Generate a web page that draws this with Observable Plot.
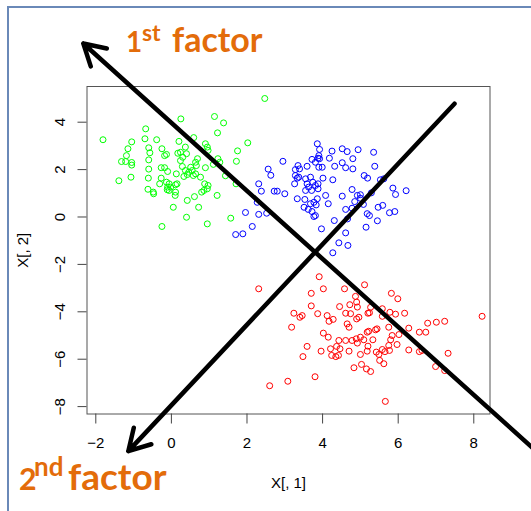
<!DOCTYPE html>
<html><head><meta charset="utf-8">
<script src="https://cdn.jsdelivr.net/npm/d3@7"></script>
<script src="https://cdn.jsdelivr.net/npm/@observablehq/plot@0.6"></script>
<style>
html,body{margin:0;padding:0;background:#fff;}
#wrap{position:relative;width:531px;height:511px;overflow:hidden;background:#fff;}
#wrap svg{position:absolute;left:0;top:0;}
#border{position:absolute;left:7px;top:6px;right:-10px;bottom:-10px;border-left:2px solid #6a89b8;border-top:2px solid #6a89b8;z-index:2;pointer-events:none;}
</style></head><body>
<div id="wrap"><div id="border"></div></div>
<script>
// ---- data ----
const groups = ["cluster 1", "cluster 2", "cluster 3"];
const groupColors = ["#00ff00", "#0000ff", "#ff0000"];

const greenX = [-1.81,-0.68,-0.70,-1.05,-0.39,-1.15,-0.60,-0.57,-0.25,-0.18,-0.13,-1.19,-1.32,-1.21,-1.05,-1.05,-0.60,-0.60,-0.27,-0.18,-0.10,0.13,0.20,0.25,-0.61,-1.07,-1.39,-0.27,-0.31,-0.13,-0.06,0.11,-0.62,-0.48,-0.47,-0.11,-0.06,-0.10,0.10,0.42,0.05,0.40,-0.25,0.24,0.29,0.37,0.33,0.42,0.17,0.24,0.30,2.47,1.14,1.38,1.22,0.59,2.02,0.90,0.95,0.97,1.75,0.37,0.40,1.72,0.69,0.64,0.66,1.23,1.28,0.51,0.55,0.46,0.90,1.11,0.58,0.64,0.77,1.43,0.88,0.97,0.86,0.95,1.71,0.80,0.61,1.21,0.72,1.57,0.95,0.11,0.15,-0.02];
const greenY = [3.26,3.72,3.30,3.17,3.26,2.88,2.92,2.71,2.88,2.59,2.64,2.59,2.34,2.34,2.30,2.19,2.41,2.02,2.08,2.08,1.92,1.82,3.19,4.14,1.64,1.68,1.53,1.64,1.40,1.47,1.40,1.36,1.17,1.05,0.98,1.15,1.12,1.26,0.91,0.70,0.41,-0.01,-0.40,2.38,2.13,1.96,1.71,1.79,2.69,2.73,2.52,5.00,4.24,3.97,3.55,3.35,3.13,3.09,2.95,2.81,2.79,2.95,2.67,2.35,2.46,2.31,2.17,2.46,2.31,2.10,1.96,1.89,2.08,2.22,1.75,1.82,1.68,1.74,1.40,1.33,1.12,1.19,1.40,1.05,0.86,0.91,0.41,-0.05,-0.29,1.05,1.40,1.26];

const blueX = [2.56,2.63,2.31,2.38,2.72,2.80,2.27,1.96,2.31,2.52,2.14,1.70,1.89,2.95,3.86,3.35,3.28,3.39,3.59,3.72,3.81,3.88,3.28,3.33,3.37,3.26,3.55,3.68,3.59,3.74,3.81,3.88,3.00,3.55,3.71,3.63,3.33,3.53,3.68,3.77,3.83,3.51,3.62,3.72,3.77,4.25,4.52,4.65,4.94,5.35,3.92,3.90,3.92,3.99,3.90,4.18,4.32,4.52,4.61,4.80,4.80,5.38,4.01,4.27,5.10,5.19,5.53,5.62,3.88,3.86,4.78,4.92,5.00,5.00,4.52,4.08,4.15,5.86,5.93,6.21,4.85,4.78,4.61,5.29,5.47,5.59,5.77,5.91,5.18,5.24,3.81,4.31,4.66,5.45,5.15,3.97,4.61,4.43,4.67,4.27,5.08];
const blueY = [2.02,1.76,1.40,1.09,1.09,1.09,0.62,0.19,0.11,0.16,-0.40,-0.74,-0.71,2.35,3.09,2.17,2.00,2.03,2.14,2.43,2.31,2.48,1.75,1.64,1.68,1.40,1.61,1.68,1.40,1.47,1.33,1.40,0.98,1.12,1.12,1.26,0.77,0.74,0.56,0.62,0.51,0.41,0.32,0.23,0.02,2.78,2.88,2.76,2.84,2.73,2.85,2.59,2.46,2.10,2.10,2.48,2.14,2.29,2.08,2.46,2.03,2.14,1.64,1.57,1.75,1.64,1.57,1.61,1.19,0.77,1.16,0.91,0.94,0.79,0.88,0.91,0.56,1.22,0.95,1.11,0.65,0.37,0.32,1.02,0.41,0.49,0.18,0.23,0.14,0.06,0.06,-0.15,-0.08,-0.16,-0.43,-0.50,-0.67,-1.09,-1.20,-1.51,0.53];

const redX = [2.31,3.70,4.02,4.58,4.87,3.70,3.24,3.40,3.46,3.87,4.12,4.17,4.28,4.45,4.72,4.61,4.74,4.90,4.92,4.96,4.90,3.18,4.65,4.70,5.20,4.02,4.15,4.43,4.61,4.78,5.00,5.09,5.18,3.59,3.96,4.21,4.37,4.46,4.24,4.35,4.42,4.70,5.00,5.18,5.20,3.48,4.83,5.03,5.16,3.80,3.08,2.60,5.82,5.99,5.27,5.24,5.58,5.58,5.78,5.93,6.17,8.22,6.78,7.01,7.23,5.75,6.28,5.22,5.40,5.44,6.56,6.73,5.84,6.02,5.80,5.33,5.97,5.75,5.77,5.65,6.28,6.56,6.63,7.32,5.42,5.49,5.58,5.51,5.62,6.99,7.23,5.27,5.66,5.11,3.91,4.89,4.92];
const redY = [-3.03,-3.22,-3.03,-3.03,-3.35,-3.75,-4.06,-4.23,-4.16,-4.08,-4.16,-4.40,-4.32,-3.78,-3.70,-4.06,-4.08,-3.59,-3.80,-4.23,-4.30,-4.65,-4.51,-4.65,-4.06,-4.90,-5.07,-5.21,-5.21,-5.21,-5.07,-5.18,-4.86,-5.46,-5.66,-5.56,-5.46,-5.56,-5.84,-5.89,-5.84,-5.66,-5.80,-5.66,-5.45,-5.89,-6.36,-6.22,-6.41,-6.74,-6.93,-7.12,-3.22,-3.45,-3.81,-4.04,-3.87,-4.19,-4.02,-4.10,-4.06,-4.19,-4.48,-4.44,-4.40,-4.65,-4.69,-4.82,-4.76,-4.72,-4.86,-4.86,-5.00,-4.96,-5.18,-5.18,-5.38,-5.42,-5.63,-5.68,-5.61,-5.68,-5.63,-5.75,-5.70,-5.80,-5.59,-6.05,-6.19,-6.31,-6.48,-6.52,-7.78,-2.86,-2.52,-5.14,-5.32];

const xTicks = [-2, 0, 2, 4, 6, 8];
const yTicks = [-8, -6, -4, -2, 0, 2, 4];
const xDomain = [-2.233, 8.429];
const yDomain = [-8.312, 5.506];

// factor directions drawn as arrows (data coordinates)
const arrowFrom = [[9.63, -9.85], [7.49, 4.78]];
const arrowTo = [[-2.33, 7.32], [-1.14, -9.88]];
const factorNumbers = ["1", "2"];
const factorSuffixes = ["st", "nd"];
const factorWord = "factor";

// ---- build table ----
const points = [
  ...greenX.map((x, i) => ({x, y: greenY[i], group: groups[0]})),
  ...blueX.map((x, i) => ({x, y: blueY[i], group: groups[1]})),
  ...redX.map((x, i) => ({x, y: redY[i], group: groups[2]}))
];
const arrows = arrowFrom.map((f, i) => ({x1: f[0], y1: f[1], x2: arrowTo[i][0], y2: arrowTo[i][1]}));

const chart = Plot.plot({
  width: 531, height: 511,
  marginLeft: 86.5, marginRight: 41.5, marginTop: 86, marginBottom: 97.5,
  style: {fontFamily: "'Liberation Sans', Arial, sans-serif", fontSize: "15px", background: "transparent", color: "#000", overflow: "visible"},
  x: {domain: xDomain},
  y: {domain: yDomain},
  color: {domain: groups, range: groupColors},
  marks: [
    Plot.frame({stroke: "#555", strokeWidth: 1}),
    Plot.axisX({ticks: xTicks, tickSize: 10, tickPadding: 13.5, stroke: "#444", label: "X[, 1]", labelAnchor: "center", labelOffset: 74, labelArrow: "none"}),
    Plot.axisY({ticks: yTicks, tickSize: 9, tickPadding: 13.5, tickRotate: -90, stroke: "#444", label: "X[, 2]", labelAnchor: "center", labelOffset: 70, labelArrow: "none"}),
    Plot.dot(points, {x: "x", y: "y", stroke: "group", r: 3, strokeWidth: 1}),
    Plot.arrow(arrows, {x1: "x1", y1: "y1", x2: "x2", y2: "y2", stroke: "black", strokeWidth: 4.5, headLength: 8})
  ]
});
document.getElementById("wrap").prepend(chart);

// factor labels (layout in pixels)
const orange = "#e36c0a";
const svg = d3.select(chart);
const labelLayout = [
  {x: 126, sx: 142, wx: 172, y: 52, size: 34, sup: 23, rise: 11},
  {x: 19, sx: 34, wx: 68, y: 490, size: 37, sup: 26, rise: 14}
];
factorNumbers.forEach((n, i) => {
  const p = labelLayout[i];
  const t = svg.append("text").attr("y", p.y).attr("fill", orange)
    .attr("text-anchor", "start")
    .style("font-family", "Lato, 'Open Sans', sans-serif").style("font-weight", "bold").style("font-size", p.size + "px");
  t.append("tspan").attr("x", p.x).attr("y", p.y)
    .style("font-size", (p.size * 0.82) + "px").text(n);
  t.append("tspan").attr("x", p.sx).attr("y", p.y - p.rise).style("font-size", p.sup + "px").text(factorSuffixes[i]);
  t.append("tspan").attr("x", p.wx).attr("y", p.y).text(factorWord);
});
</script>
</body></html>
